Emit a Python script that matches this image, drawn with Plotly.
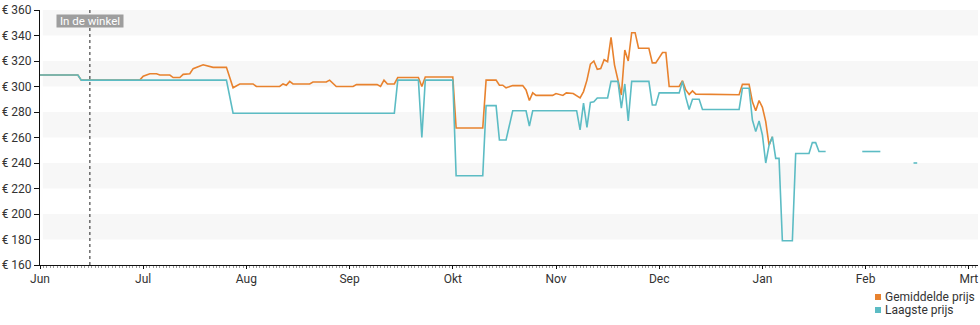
import calendar
from datetime import datetime

import plotly.graph_objects as go

# ---- data ---------------------------------------------------------------
MONTH_LABELS = ["Jun", "Jul", "Aug", "Sep", "Okt", "Nov", "Dec", "Jan", "Feb", "Mrt"]
START_YEAR, START_MONTH = 2024, 6

PRICE_TICKS = [160, 180, 200, 220, 240, 260, 280, 300, 320, 340, 360]

STORE_LABEL = "In de winkel"
STORE_DATE = "2024-06-15T12:00"

AVG_NAME = "Gemiddelde prijs"
avg_dates = [
    "2024-06-01", "2024-06-12", "2024-06-13", "2024-06-30", "2024-07-01", "2024-07-03",
    "2024-07-05", "2024-07-06", "2024-07-09", "2024-07-10", "2024-07-12", "2024-07-13",
    "2024-07-15", "2024-07-16", "2024-07-19", "2024-07-21", "2024-07-22", "2024-07-26",
    "2024-07-28", "2024-07-30", "2024-08-03", "2024-08-04", "2024-08-11", "2024-08-12",
    "2024-08-13", "2024-08-14", "2024-08-15", "2024-08-20", "2024-08-21", "2024-08-25",
    "2024-08-26", "2024-08-28", "2024-09-02", "2024-09-03", "2024-09-09", "2024-09-10",
    "2024-09-11", "2024-09-12", "2024-09-14", "2024-09-15", "2024-09-21", "2024-09-22",
    "2024-09-23", "2024-10-01", "2024-10-02", "2024-10-10", "2024-10-11", "2024-10-14",
    "2024-10-15", "2024-10-16", "2024-10-17", "2024-10-19", "2024-10-22", "2024-10-23",
    "2024-10-24", "2024-10-25", "2024-10-26", "2024-10-31", "2024-11-01", "2024-11-03",
    "2024-11-04", "2024-11-06", "2024-11-07", "2024-11-08", "2024-11-09", "2024-11-10",
    "2024-11-11", "2024-11-12", "2024-11-13", "2024-11-14", "2024-11-15", "2024-11-16",
    "2024-11-17", "2024-11-18", "2024-11-20", "2024-11-21", "2024-11-22", "2024-11-23",
    "2024-11-24", "2024-11-25", "2024-11-28", "2024-11-29", "2024-11-30", "2024-12-02",
    "2024-12-03", "2024-12-04", "2024-12-07", "2024-12-08", "2024-12-09", "2024-12-10",
    "2024-12-11", "2024-12-12", "2024-12-25", "2024-12-26", "2024-12-28", "2024-12-29",
    "2024-12-30", "2024-12-31", "2025-01-01", "2025-01-02", "2025-01-03", "2025-01-04",
]
avg_prices = [
    309, 309, 305, 305, 308, 310,
    310, 309, 309, 307, 307, 309.5,
    310, 314, 317, 316, 315, 315,
    299, 302, 302, 300, 300, 302,
    301, 304, 302, 302, 303.5, 303.5,
    305, 300, 300, 301.5, 301.5, 300,
    305, 302, 302, 307, 307, 300,
    307.5, 307.5, 267.5, 267.5, 305, 305,
    301, 301, 299, 300.7, 300.7, 297.3,
    289, 295, 293, 293, 294.5, 293,
    295, 294.5, 293, 291, 296, 305,
    317.5, 320, 313.5, 314, 321, 319.5,
    338.5, 317, 293.3, 328.6, 320, 342.2,
    342.2, 330, 330, 318.5, 318.5, 326.7,
    326.7, 300, 300, 304.5, 297.3, 293.8,
    296.6, 294, 293.5, 301.7, 301.7, 288,
    281, 289, 283.7, 272.4, 254, 260.6,
]

LOW_NAME = "Laagste prijs"
low_dates = [
    "2024-06-01", "2024-06-12", "2024-06-13", "2024-07-26", "2024-07-28", "2024-09-14",
    "2024-09-15", "2024-09-21", "2024-09-22", "2024-09-23", "2024-10-01", "2024-10-02",
    "2024-10-10", "2024-10-11", "2024-10-14", "2024-10-15", "2024-10-17", "2024-10-19",
    "2024-10-23", "2024-10-24", "2024-10-25", "2024-11-07", "2024-11-08", "2024-11-09",
    "2024-11-10", "2024-11-11", "2024-11-12", "2024-11-13", "2024-11-16", "2024-11-17",
    "2024-11-19", "2024-11-20", "2024-11-21", "2024-11-22", "2024-11-23", "2024-11-28",
    "2024-11-29", "2024-11-30", "2024-12-01", "2024-12-07", "2024-12-08", "2024-12-09",
    "2024-12-10", "2024-12-11", "2024-12-13", "2024-12-14", "2024-12-25", "2024-12-26",
    "2024-12-28", "2024-12-29", "2024-12-30", "2024-12-31", "2025-01-01", "2025-01-02",
    "2025-01-03", "2025-01-04", "2025-01-05", "2025-01-06", "2025-01-07", "2025-01-10",
    "2025-01-11", "2025-01-15", "2025-01-16", "2025-01-17", "2025-01-18", "2025-01-20",
    "2025-01-25", "2025-01-31", "2025-02-05", "2025-02-10", "2025-02-14", "2025-02-15",
]
low_prices = [
    309, 309, 305, 305, 279, 279,
    305, 305, 260, 305, 305, 230,
    230, 285, 285, 258, 258, 281,
    281, 269, 281, 281, 266, 287,
    268, 287.5, 288, 291, 291, 304,
    304, 283, 302, 273, 304, 304,
    285.5, 285.5, 295, 295, 304, 291.5,
    282, 290, 290, 282, 282, 298.6,
    298.6, 273.7, 264.6, 273, 262, 240,
    254, 260.6, 243.6, 243.6, 179, 179,
    247.5, 247.5, 256, 256, 249, 249,
    None, 249, 249, None, 240, 240,
]

AVG_COLOR = "#e8822e"
LOW_COLOR = "#5cbcc4"


def month_pos(stamp):
    """Position on the month axis: one unit per calendar month, Jun = 0."""
    dt = datetime.fromisoformat(stamp)
    idx = (dt.year - START_YEAR) * 12 + dt.month - START_MONTH
    ndays = calendar.monthrange(dt.year, dt.month)[1]
    return idx + (dt.day - 1 + dt.hour / 24) / ndays


def day_positions(first, last):
    out = []
    y, m = first
    while (y, m) <= last:
        n = calendar.monthrange(y, m)[1]
        for d in range(1, n + 1):
            out.append(month_pos(f"{y:04d}-{m:02d}-{d:02d}"))
        m += 1
        if m > 12:
            y, m = y + 1, 1
    return out


# ---- geometry -----------------------------------------------------------
W, H = 980, 325
M_L, M_R, M_T, M_B = 40, 2, 10, 60
PLOT_W, PLOT_H = W - M_L - M_R, H - M_T - M_B
MONTH_PX = 103.2
X_MAX = PLOT_W / MONTH_PX


def px_x(px):
    return (px - M_L) / PLOT_W


def px_y(py):
    return (H - M_B - py) / PLOT_H


FONT = "Roboto, Arial, sans-serif"
TXT = "#333333"

fig = go.Figure()

fig.add_trace(go.Scatter(
    x=[month_pos(d) for d in avg_dates], y=avg_prices, name=AVG_NAME,
    mode="lines", line=dict(color=AVG_COLOR, width=1.6), showlegend=False,
))
fig.add_trace(go.Scatter(
    x=[month_pos(d) for d in low_dates], y=low_prices, name=LOW_NAME,
    mode="lines", line=dict(color=LOW_COLOR, width=1.6), connectgaps=False,
    showlegend=False,
))

# alternating background bands
shapes = []
for lo in PRICE_TICKS[1::2]:
    shapes.append(dict(
        type="rect", xref="paper", yref="y", x0=0.003, x1=1, y0=lo, y1=lo + 20,
        fillcolor="#f7f7f7", line=dict(width=0), layer="below",
    ))

# store marker
store_x = month_pos(STORE_DATE)
shapes.append(dict(
    type="line", xref="x", yref="paper", x0=store_x, x1=store_x, y0=0, y1=1,
    line=dict(color="#222222", width=1, dash="dot"),
))

# legend swatches
for i, col in enumerate([AVG_COLOR, LOW_COLOR]):
    cy = 297 + i * 13
    shapes.append(dict(
        type="rect", xref="paper", yref="paper",
        x0=px_x(875), x1=px_x(881), y0=px_y(cy + 3), y1=px_y(cy - 3),
        fillcolor=col, line=dict(width=0),
    ))

annotations = [
    dict(
        x=store_x, xref="x", y=px_y(21), yref="paper", text=STORE_LABEL,
        showarrow=False, xanchor="center", yanchor="middle",
        font=dict(family=FONT, size=11.5, color="white"),
        bgcolor="#9e9e9e", borderpad=0, width=66, height=12,
    ),
]
for i, name in enumerate([AVG_NAME, LOW_NAME]):
    annotations.append(dict(
        x=px_x(883), xref="paper", y=px_y(297 + i * 13), yref="paper", text=name,
        showarrow=False, xanchor="left", yanchor="middle",
        font=dict(family=FONT, size=12, color=TXT),
    ))

fig.update_layout(
    width=W, height=H,
    margin=dict(l=M_L, r=M_R, t=M_T, b=M_B, pad=0),
    paper_bgcolor="white", plot_bgcolor="white",
    font=dict(family=FONT, size=12, color=TXT),
    shapes=shapes, annotations=annotations,
    showlegend=False,
    xaxis=dict(
        range=[0, X_MAX], tickmode="array",
        tickvals=list(range(len(MONTH_LABELS))), ticktext=MONTH_LABELS,
        showgrid=False, zeroline=False, showline=True, linecolor="#111111", linewidth=1,
        ticks="outside", ticklen=3, tickcolor="#111111",
        tickfont=dict(family=FONT, size=12, color=TXT),
        minor=dict(
            tickmode="array", tickvals=day_positions((2024, 6), (2025, 3)),
            ticks="outside", ticklen=2, tickcolor="#9a9a9a", tickwidth=1, showgrid=False,
        ),
        fixedrange=True,
    ),
    yaxis=dict(
        range=[160, 360], tickmode="array", tickvals=PRICE_TICKS,
        ticktext=[f"€ {v}" for v in PRICE_TICKS],
        showgrid=False, zeroline=False, showline=True, linecolor="#111111", linewidth=1,
        ticks="outside", ticklen=5, tickcolor="#111111",
        tickfont=dict(family=FONT, size=12, color=TXT),
        fixedrange=True,
    ),
)

fig.write_html("out.html", config={"displayModeBar": False})
